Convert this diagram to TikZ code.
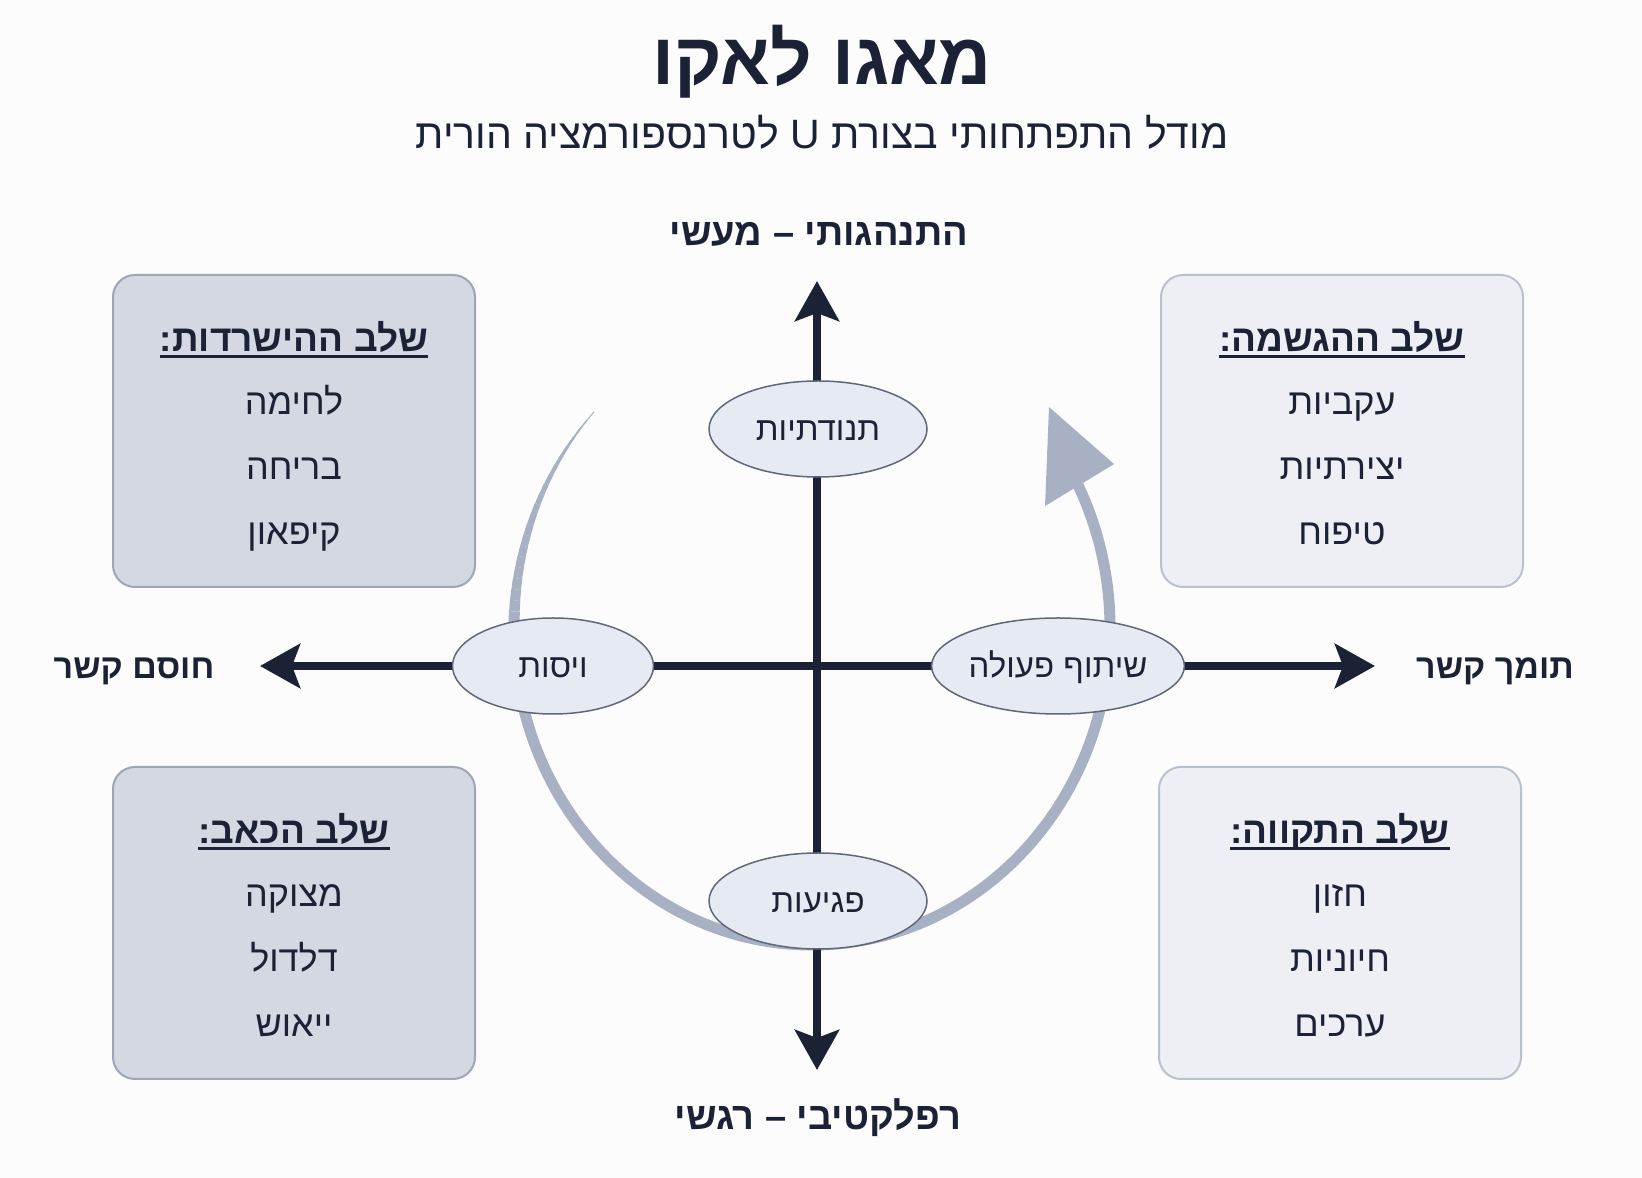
\documentclass[tikz,border=0pt]{standalone}
\usepackage{fontspec}
\usetikzlibrary{arrows.meta,shapes.geometric,positioning}
\TeXXeTstate=1
\newfontfamily\hebfont[Script=Hebrew]{Liberation Sans}
\newcommand{\heb}[1]{\hebfont\beginR #1\endR}
\definecolor{navy}{HTML}{1B2236}
\definecolor{boxdark}{HTML}{D3D8E2}
\definecolor{boxdarkline}{HTML}{9EA6B6}
\definecolor{boxlight}{HTML}{EDEFF4}
\definecolor{boxlightline}{HTML}{BAC1CE}
\definecolor{ovalfill}{HTML}{E6EAF2}
\definecolor{ovalline}{HTML}{606878}
\definecolor{arcgray}{HTML}{A8B1C3}
\definecolor{bg}{HTML}{FCFCFD}
\begin{document}
\begin{tikzpicture}[x=1pt,y=1pt,
box/.style={draw, rounded corners=22pt, line width=2pt, minimum width=362pt, minimum height=312pt},
darkbox/.style={box, fill=boxdark, draw=boxdarkline},
lightbox/.style={box, fill=boxlight, draw=boxlightline},
stagetitle/.style={font=\fontsize{37}{41}\selectfont\bfseries, text=navy, inner sep=0pt, text height=27pt, text depth=0pt},
stageitem/.style={font=\fontsize{36}{40}\selectfont, text=navy, inner sep=0pt, text height=26pt, text depth=0pt},
oval/.style={ellipse, draw=ovalline, line width=1.5pt, fill=ovalfill, minimum height=96pt, inner sep=0pt, text height=24pt, text depth=0pt, font=\fontsize{33}{36}\selectfont, text=navy},
axislbl/.style={font=\fontsize{38}{42}\selectfont\bfseries, text=navy, inner sep=0pt, text height=27pt, text depth=0pt},
sidelbl/.style={axislbl, font=\fontsize{34}{38}\selectfont\bfseries, text height=25pt},
axis/.style={draw=navy, line width=8pt, arrows={Stealth[length=40pt,width=44pt,inset=8pt]-Stealth[length=40pt,width=44pt,inset=8pt]}}]
\fill[bg] (0,0) rectangle (1642,1178);
\useasboundingbox (0,0) rectangle (1642,1178);

% heading
\node[font=\fontsize{73}{78}\selectfont\bfseries, text=navy, inner sep=0pt, text height=50pt, text depth=0pt] (title) at (822,1118) {\heb{מאגו לאקו}};
\node[font=\fontsize{41}{45}\selectfont, text=navy, inner sep=0pt, text height=29pt, text depth=0pt] (subtitle) at (822,1044) {\heb{מודל התפתחותי בצורת U לטרנספורמציה הורית}};

% stage boxes
\node[darkbox] (b1) at (294,747) {};
\node[lightbox] (b2) at (1342,747) {};
\node[darkbox] (b3) at (294,255) {};
\node[lightbox] (b4) at (1340,255) {};

\node[stagetitle] (t1) at ([yshift=-64]b1.north) {\heb{שלב ההישרדות:}};
\node[stageitem] at ([yshift=-128]b1.north) {\heb{לחימה}};
\node[stageitem] at ([yshift=-193]b1.north) {\heb{בריחה}};
\node[stageitem] at ([yshift=-258]b1.north) {\heb{קיפאון}};

\node[stagetitle] (t2) at ([yshift=-64]b2.north) {\heb{שלב ההגשמה:}};
\node[stageitem] at ([yshift=-128]b2.north) {\heb{עקביות}};
\node[stageitem] at ([yshift=-193]b2.north) {\heb{יצירתיות}};
\node[stageitem] at ([yshift=-258]b2.north) {\heb{טיפוח}};

\node[stagetitle] (t3) at ([yshift=-64]b3.north) {\heb{שלב הכאב:}};
\node[stageitem] at ([yshift=-128]b3.north) {\heb{מצוקה}};
\node[stageitem] at ([yshift=-193]b3.north) {\heb{דלדול}};
\node[stageitem] at ([yshift=-258]b3.north) {\heb{ייאוש}};

\node[stagetitle] (t4) at ([yshift=-64]b4.north) {\heb{שלב התקווה:}};
\node[stageitem] at ([yshift=-128]b4.north) {\heb{חזון}};
\node[stageitem] at ([yshift=-193]b4.north) {\heb{חיוניות}};
\node[stageitem] at ([yshift=-258]b4.north) {\heb{ערכים}};

\foreach \n in {t1,t2,t3,t4}
  \draw[navy, line width=2.5pt] ([yshift=-5]\n.south west) -- ([yshift=-5]\n.south east);

% U path
\coordinate (uc) at (812,550);
\foreach \a in {137,139,...,177}{
  \pgfmathsetmacro{\w}{1+(\a-137)*0.25}
  \draw[arcgray, line width=\w pt] (uc) ++(\a:298 and 317) arc[start angle=\a, end angle=\a+2, x radius=298, y radius=317];
}
\draw[arcgray, line width=11pt] (uc) ++(179:298 and 317) arc[start angle=179, end angle=387, x radius=298, y radius=317] coordinate (ue);
\fill[arcgray] ([shift={(-28.5,77)}]ue) -- ([shift={(-32.5,-22)}]ue) -- ([shift={(36.5,20)}]ue) -- cycle;

% axes
\coordinate (ntip) at (817,897);
\coordinate (stip) at (817,108);
\coordinate (wtip) at (260,512);
\coordinate (etip) at (1375,512);
\draw[axis] (stip) -- (ntip);
\draw[axis] (wtip) -- (etip);

\node[axislbl] (top) at (819,946) {\heb{התנהגותי – מעשי}};
\node[axislbl] (bottom) at (818,62) {\heb{רפלקטיבי – רגשי}};
\node[sidelbl] (left) at (134,512) {\heb{חוסם קשר}};
\node[sidelbl] (right) at (1495,512) {\heb{תומך קשר}};

% ovals on the axes
\node[oval, minimum width=218pt] (o1) at (818,749) {\heb{תנודתיות}};
\node[oval, minimum width=201pt] (o2) at (553,512) {\heb{ויסות}};
\node[oval, minimum width=224pt] (o3) at (1058,512) {\heb{שיתוף פעולה}};
\node[oval, minimum width=218pt] (o4) at (818,277) {\heb{פגיעות}};
\end{tikzpicture}
\end{document}
